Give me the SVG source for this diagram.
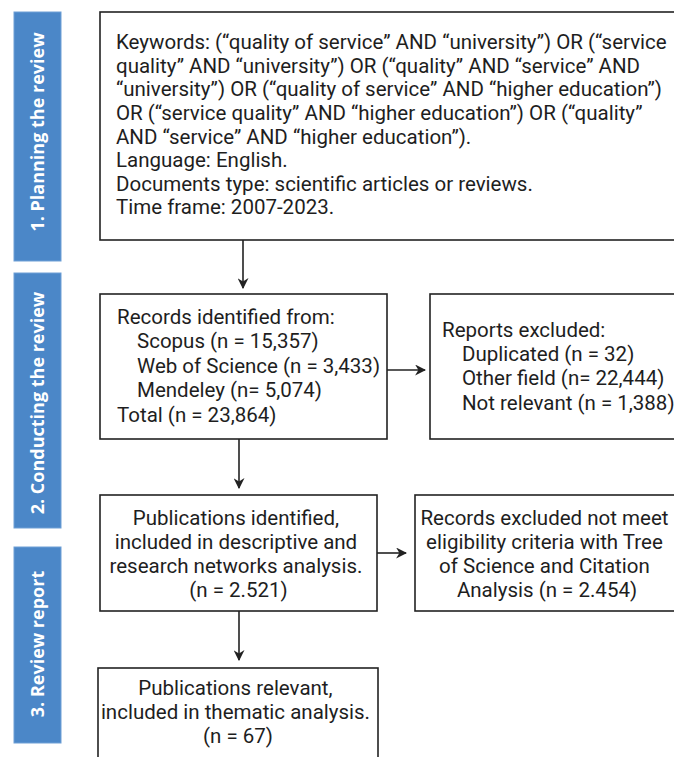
<svg xmlns="http://www.w3.org/2000/svg" width="674" height="757" viewBox="0 0 674 757">
<defs>
<style>
.bar{fill:#4B87C8;stroke:#6E9FD6;stroke-width:1}
.bt{font-family:"Open Sans","DejaVu Sans",sans-serif;font-weight:bold;font-size:18px;fill:#fff;text-anchor:middle}
.box{fill:#fff;stroke:#222;stroke-width:1.6}
.t{font-family:Roboto,"Liberation Sans",sans-serif;font-size:20.5px;fill:#1e1e1e}
.c{text-anchor:middle}
.ln{stroke:#222;stroke-width:1.6;fill:none}
</style>
<marker id="ah" viewBox="0 0 10 10" refX="9" refY="5" markerWidth="11" markerHeight="11" markerUnits="userSpaceOnUse" orient="auto">
<path d="M0,0 L10,5 L0,10 L3,5 z" fill="#222"/>
</marker>
</defs>
<rect width="674" height="757" fill="#fff"/>
<g id="phase1">
<rect class="bar" x="14" y="12" width="47" height="249"/>
<text class="bt" transform="translate(44,132) rotate(-90)">1. Planning the review</text>
</g>
<g id="phase2">
<rect class="bar" x="14" y="273" width="47" height="255"/>
<text class="bt" transform="translate(44,403) rotate(-90)">2. Conducting the review</text>
</g>
<g id="phase3">
<rect class="bar" x="14" y="547" width="47" height="196"/>
<text class="bt" transform="translate(44,644) rotate(-90)">3. Review report</text>
</g>
<g id="search">
<rect class="box" x="100" y="12" width="590" height="228"/>
<text class="t" x="116">
<tspan x="116" y="49">Keywords: (“quality of service” AND “university”) OR (“service</tspan>
<tspan x="116" y="72.5">quality” AND “university”) OR (“quality” AND “service” AND</tspan>
<tspan x="116" y="96">“university”) OR (“quality of service” AND “higher education”)</tspan>
<tspan x="116" y="120">OR (“service quality” AND “higher education”) OR (“quality”</tspan>
<tspan x="116" y="143.5">AND “service” AND “higher education”).</tspan>
<tspan x="116" y="167">Language: English.</tspan>
<tspan x="116" y="190.5">Documents type: scientific articles or reviews.</tspan>
<tspan x="116" y="214">Time frame: 2007-2023.</tspan>
</text>
</g>
<g id="identified">
<rect class="box" x="100" y="294" width="287" height="145"/>
<text class="t">
<tspan x="117" y="324">Records identified from:</tspan>
<tspan x="137" y="348">Scopus (n = 15,357)</tspan>
<tspan x="137" y="373">Web of Science (n = 3,433)</tspan>
<tspan x="137" y="397">Mendeley (n= 5,074)</tspan>
<tspan x="117" y="422">Total (n = 23,864)</tspan>
</text>
</g>
<g id="excluded1">
<rect class="box" x="430" y="294" width="260" height="145"/>
<text class="t">
<tspan x="442" y="337">Reports excluded:</tspan>
<tspan x="462" y="361">Duplicated (n = 32)</tspan>
<tspan x="462" y="385">Other field (n= 22,444)</tspan>
<tspan x="462" y="410">Not relevant (n = 1,388)</tspan>
</text>
</g>
<g id="publications">
<rect class="box" x="100" y="495" width="277" height="116"/>
<text class="t c">
<tspan x="238.5" y="525">Publications identified,</tspan>
<tspan x="238.5" y="549">included in descriptive and</tspan>
<tspan x="238.5" y="573">research networks analysis.</tspan>
<tspan x="238.5" y="597">(n = 2.521)</tspan>
</text>
</g>
<g id="excluded2">
<rect class="box" x="415" y="495" width="275" height="116"/>
<text class="t c">
<tspan x="547" y="525">Records excluded not meet</tspan>
<tspan x="547" y="549">eligibility criteria with Tree</tspan>
<tspan x="547" y="573">of Science and Citation</tspan>
<tspan x="547" y="597">Analysis (n = 2.454)</tspan>
</text>
</g>
<g id="relevant">
<rect class="box" x="98" y="668" width="280" height="100"/>
<text class="t c">
<tspan x="238" y="695">Publications relevant,</tspan>
<tspan x="238" y="719">included in thematic analysis.</tspan>
<tspan x="238" y="743">(n = 67)</tspan>
</text>
</g>
<g id="connectors">
<line class="ln" x1="243" y1="240" x2="243" y2="288" marker-end="url(#ah)"/>
<line class="ln" x1="387" y1="370" x2="425" y2="370" marker-end="url(#ah)"/>
<line class="ln" x1="239" y1="439" x2="239" y2="488" marker-end="url(#ah)"/>
<line class="ln" x1="377" y1="553" x2="406" y2="553" marker-end="url(#ah)"/>
<line class="ln" x1="239" y1="611" x2="239" y2="660" marker-end="url(#ah)"/>
</g>
</svg>
